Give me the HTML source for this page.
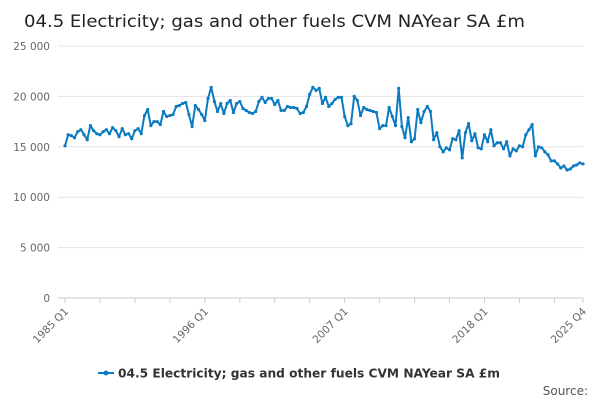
<!DOCTYPE html>
<html><head><meta charset="utf-8"><style>
body{margin:0;background:#fff;font-family:"DejaVu Sans","Liberation Sans",sans-serif;}
</style></head><body>
<svg width="600" height="400" xmlns="http://www.w3.org/2000/svg" font-family="DejaVu Sans, Liberation Sans, sans-serif">
<text x="24" y="27" font-size="17" fill="#222" textLength="501" lengthAdjust="spacingAndGlyphs">04.5 Electricity; gas and other fuels CVM NAYear SA £m</text>
<g id="grid"></g><g id="yl"></g><g id="xl"></g><g id="series"></g>
<g>
<line x1="98" y1="373" x2="114" y2="373" stroke="#0b7bc1" stroke-width="2"/><circle cx="106" cy="373" r="2.5" fill="#0b7bc1"/>
<text x="118" y="377.5" font-size="12" font-weight="bold" fill="#333" textLength="382" lengthAdjust="spacingAndGlyphs">04.5 Electricity; gas and other fuels CVM NAYear SA £m</text></g>
<text x="588" y="395" font-size="12" fill="#555" text-anchor="end">Source:</text>
</svg>
<script>
const yTicks=[0,5000,10000,15000,20000,25000];
const xTickLabels=["1985 Q1","1996 Q1","2007 Q1","2018 Q1","2025 Q4"];
const xTickIdx=[0,44,88,132,163];
const values=[15.1,16.2,16.1,15.9,16.5,16.7,16.2,15.7,17.1,16.6,16.3,16.2,16.5,16.7,16.3,16.9,16.6,16.0,16.8,16.2,16.3,15.8,16.6,16.8,16.3,18.1,18.7,17.1,17.5,17.5,17.2,18.5,18.0,18.1,18.2,19.0,19.1,19.3,19.4,18.2,17.0,19.1,18.7,18.2,17.6,19.8,20.9,19.5,18.5,19.3,18.3,19.3,19.6,18.4,19.3,19.5,18.8,18.6,18.4,18.3,18.5,19.5,19.9,19.4,19.8,19.8,19.2,19.6,18.6,18.6,19.0,18.9,18.9,18.8,18.3,18.4,19.0,20.2,20.9,20.6,20.8,19.3,19.9,19.0,19.3,19.7,19.9,19.9,18.0,17.1,17.3,20.0,19.6,18.1,18.9,18.7,18.6,18.5,18.4,16.8,17.1,17.1,18.9,18.0,17.1,20.8,17.0,15.9,17.9,15.5,15.8,18.7,17.4,18.5,19.0,18.5,15.7,16.4,15.0,14.5,14.9,14.7,15.8,15.7,16.6,13.9,16.4,17.3,15.6,16.3,14.9,14.8,16.2,15.5,16.7,15.1,15.4,15.4,14.8,15.5,14.1,14.8,14.6,15.1,15.0,16.2,16.7,17.2,14.1,15.0,14.9,14.5,14.2,13.6,13.6,13.3,12.9,13.1,12.7,12.8,13.1,13.2,13.4,13.3];
const NS="http://www.w3.org/2000/svg";
const x0=65,x1=583,y0=298,y1=46;
const xs=i=>x0+(x1-x0)*i/163;
const ys=v=>y0-(y0-y1)*v/25000;
function mk(t,a,p){const e=document.createElementNS(NS,t);for(const k in a)e.setAttribute(k,a[k]);p.appendChild(e);return e;}
const g=document.getElementById('grid'),yl=document.getElementById('yl'),xl=document.getElementById('xl'),s=document.getElementById('series');
yTicks.forEach(v=>{
 const l=mk('line',{x1:58,x2:x1,y1:ys(v),y2:ys(v),stroke:v===0?'#ccc':'#e3e3e3'},g);
 
 
 const t=mk('text',{x:50,y:ys(v)+4,'font-size':10.5,fill:'#666','text-anchor':'end'},yl);
 t.textContent=v===0?'0':(v/1000)+' 000';
 
 
});
for(let i=0;i<164;i+=11){mk('line',{x1:xs(i),x2:xs(i),y1:y0,y2:y0+5,stroke:'#ccc'},g);}
mk('line',{x1:xs(163),x2:xs(163),y1:y0,y2:y0+5,stroke:'#ccc'},g);
xTickIdx.forEach((i,k)=>{
 const x=xs(i);
 const t=mk('text',{x:x+4,y:y0+14,'font-size':10.5,fill:'#666','text-anchor':'end',transform:`rotate(-45 ${x+4} ${y0+14})`},xl);
 t.textContent=xTickLabels[k];
 
 
});
const pts=values.map((v,i)=>xs(i).toFixed(1)+','+ys(v*1000).toFixed(1)).join(' ');
const pl=mk('polyline',{points:pts,fill:'none',stroke:'#0b7bc1','stroke-width':2,'stroke-linejoin':'round'},s);


values.forEach((v,i)=>{
 const c=mk('circle',{cx:xs(i),cy:ys(v*1000),r:1.6,fill:'#0b7bc1'},s);
 
 
});
</script>
</body></html>
